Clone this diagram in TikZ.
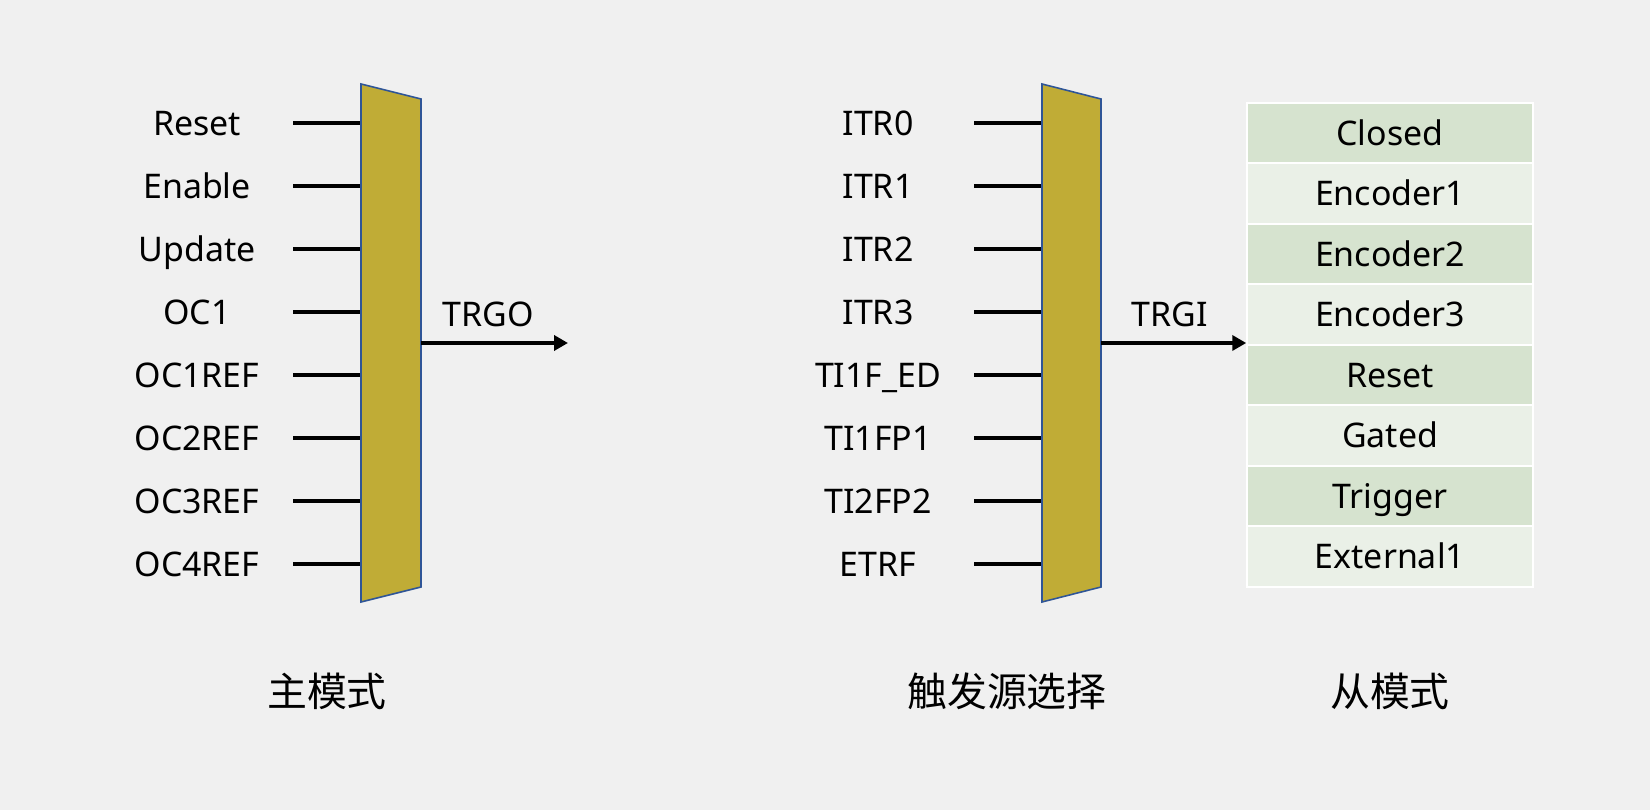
\documentclass[tikz,border=0pt]{standalone}
\usepackage{fontspec}
\setmainfont{Noto Sans}
\newfontfamily\cjk{Noto Sans CJK SC}
\usetikzlibrary{arrows.meta, positioning}
\definecolor{bgGray}{RGB}{240, 240, 240}
\definecolor{muxGold}{RGB}{192, 172, 54}
\definecolor{muxBlue}{RGB}{47, 85, 151}
\definecolor{rowDark}{RGB}{214, 227, 207}
\definecolor{rowLight}{RGB}{234, 240, 231}

\begin{document}
\begin{tikzpicture}[
        x=0.02cm, y=-0.02cm,
        sig/.style={font=\fontsize{19.3}{23}\selectfont, inner sep=0pt, text height=0.485cm, text depth=0pt},
        title/.style={font=\cjk\fontsize{22.7}{27}\selectfont, inner sep=0pt},
        wire/.style={line width=2.3pt, black},
        arrow/.style={-{Triangle[length=0.28cm, width=0.3cm]}, line width=2.3pt, black},
        mux/.style={fill=muxGold, draw=muxBlue, line width=0.9pt},
        row/.style={rectangle, draw=white, line width=0.9pt, minimum width=5.72cm, minimum height=1.21cm, inner sep=0pt, text height=0.485cm, text depth=0pt, font=\fontsize{19.3}{23}\selectfont}
    ]
        % Background
        \fill[bgGray] (0,0) rectangle (1650,810);
        \useasboundingbox (0,0) rectangle (1650,810);

        % Master mode inputs
        \foreach \lab [count=\i] in {Reset,Enable,Update,OC1,OC1REF,OC2REF,OC3REF,OC4REF} {
            \node[sig] (m\i) at (197,{123+63*(\i-1)}) {\lab};
            \coordinate (ms\i) at (293,{123+63*(\i-1)});
            \coordinate (me\i) at (361,{123+63*(\i-1)});
            \draw[wire] (ms\i) -- (me\i);
        }
        % Master mux
        \draw[mux] (361,84) coordinate (muxA) -- (421,99) -- (421,587) -- (361,602) -- cycle;
        \coordinate (muxAout) at (421,343);
        \coordinate (trgoEnd) at (568,343);
        \draw[arrow] (muxAout) -- (trgoEnd);
        \node[sig] (trgo) at (488,314) {TRGO};

        % Trigger source inputs
        \foreach \lab [count=\i] in {ITR0,ITR1,ITR2,ITR3,TI1F\_ED,TI1FP1,TI2FP2,ETRF} {
            \node[sig] (s\i) at (878,{123+63*(\i-1)}) {\lab};
            \coordinate (ss\i) at (974,{123+63*(\i-1)});
            \coordinate (se\i) at (1042,{123+63*(\i-1)});
            \draw[wire] (ss\i) -- (se\i);
        }
        % Trigger source mux
        \draw[mux] (1042,84) coordinate (muxB) -- (1101,99) -- (1101,587) -- (1042,602) -- cycle;
        \coordinate (muxBout) at (1101,343);

        % Slave mode table
        \foreach \lab [count=\i] in {Closed,Encoder1,Encoder2,Encoder3,Reset,Gated,Trigger,External1} {
            \pgfmathtruncatemacro{\odd}{mod(\i,2)}
            \ifnum\odd=1
                \node[row, fill=rowDark] (r\i) at (1390,{133+60.5*(\i-1)}) {\lab};
            \else
                \node[row, fill=rowLight] (r\i) at (1390,{133+60.5*(\i-1)}) {\lab};
            \fi
        }
        \draw[arrow] (muxBout) -- (muxBout -| r1.west);
        \node[sig] (trgi) at (1170,314) {TRGI};

        % Titles
        \node[title] (tMaster) at (327,691) {主模式};
        \node[title] (tSource) at (1007,691) {触发源选择};
        \node[title] (tSlave) at (1390,691) {从模式};
    \end{tikzpicture}
\end{document}
